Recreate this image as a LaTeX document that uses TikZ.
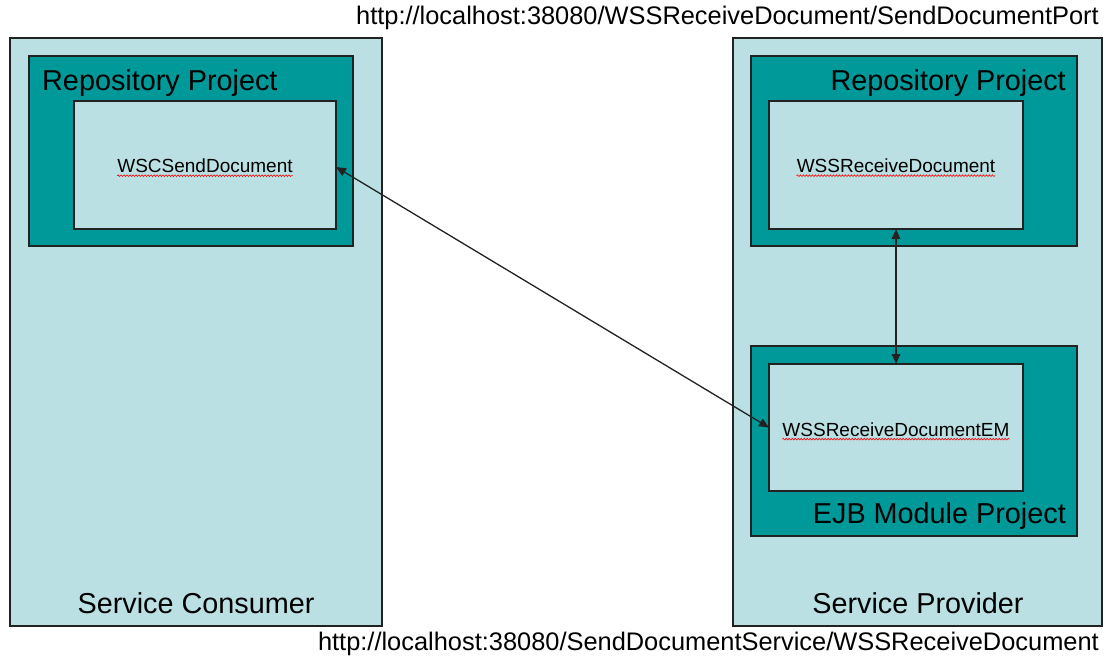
\documentclass[tikz,border=0pt]{standalone}
\usepackage{fontspec}
\setmainfont{Liberation Sans}
\usetikzlibrary{arrows.meta,decorations.pathmorphing}
\definecolor{paleblue}{HTML}{BBE0E3}
\definecolor{deepteal}{HTML}{009999}
\definecolor{edge}{HTML}{222222}

\begin{document}
\begin{tikzpicture}[x=1pt,y=-1pt,
  box/.style={draw=edge, line width=1.2pt, inner sep=0pt, outer sep=0pt, anchor=north west},
  tier/.style={box, fill=paleblue},
  project/.style={box, fill=deepteal},
  part/.style={box, fill=paleblue},
  big/.style={font=\fontsize{28.8}{34}\selectfont, inner sep=0pt},
  small/.style={font=\fontsize{19}{23}\selectfont, inner sep=0pt},
  url/.style={font=\fontsize{25.4}{30}\selectfont, inner sep=0pt},
  link/.style={draw=edge, line width=1.3pt, {Triangle[length=10pt,width=8.5pt]}-{Triangle[length=10pt,width=8.5pt]}},
  typo/.style={draw=red, line width=0.6pt, decorate, decoration={snake, amplitude=0.8pt, segment length=3pt}}
]
\useasboundingbox (0,0) rectangle (1106,659);

% consumer side
\node[tier, minimum width=372pt, minimum height=588pt] (consumer) at (10,38) {};
\node[project, minimum width=324pt, minimum height=190pt] (crepo) at (29,56) {};
\node[part, minimum width=262pt, minimum height=128pt] (wsc) at (74,101) {};

% provider side
\node[tier, minimum width=369pt, minimum height=588pt] (provider) at (733,38) {};
\node[project, minimum width=326pt, minimum height=190pt] (prepo) at (751,56) {};
\node[part, minimum width=254pt, minimum height=128pt] (wss) at (769,101) {};
\node[project, minimum width=326pt, minimum height=190pt] (ejb) at (751,346) {};
\node[part, minimum width=254pt, minimum height=127pt] (wssem) at (769,364) {};

% labels
\node[big, anchor=base west] (crepoLbl) at (42,90) {Repository Project};
\node[big, anchor=base east] (prepoLbl) at (1066,90) {Repository Project};
\node[big, anchor=base east] (ejbLbl) at (1066,523) {EJB Module Project};
\node[big, anchor=base] (consumerLbl) at (196,613) {Service Consumer};
\node[big, anchor=base] (providerLbl) at (918,613) {Service Provider};

\node[small] (wscTxt) at ([yshift=-1pt]wsc.center) {WSCSendDocument};
\node[small] (wssTxt) at ([yshift=-1pt]wss.center) {WSSReceiveDocument};
\node[small] (wssemTxt) at ([yshift=-2pt]wssem.center) {WSSReceiveDocumentEM};

\node[url, anchor=base east] (portUrl) at (1099,24) {http://localhost:38080/WSSReceiveDocument/SendDocumentPort};
\node[url, anchor=base east] (serviceUrl) at (1099,650) {http://localhost:38080/SendDocumentService/WSSReceiveDocument};

% spelling marks
\foreach \t in {wscTxt, wssTxt, wssemTxt}
  \draw[typo] ([yshift=-2.5pt]\t.south west) -- ([yshift=-2.5pt]\t.south east);

% connectors
\draw[link] ([yshift=-2pt]wsc.east) -- (wssem.west);
\draw[link] (wss.south) -- (wssem.north);
\end{tikzpicture}
\end{document}
